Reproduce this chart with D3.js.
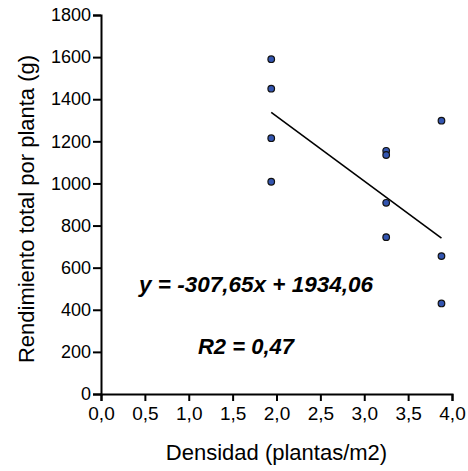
<!DOCTYPE html>
<html>
<head>
<meta charset="utf-8">
<script src="https://cdn.jsdelivr.net/npm/d3@7"></script>
<style>
  html, body { margin: 0; padding: 0; background: #fff; }
  svg { display: block; font-family: "Liberation Sans", Arial, sans-serif; }
</style>
</head>
<body>
<svg id="chart" width="468" height="471"></svg>
<script>
// Planting density (plants/m2) and total yield per plant (g)
const density = [1.94, 1.94, 1.94, 1.94, 3.25, 3.25, 3.25, 3.25, 3.88, 3.88, 3.88];
const yieldG  = [1590, 1450, 1215, 1008, 1155, 1135, 908, 745, 1298, 655, 430];

// Fitted regression: y = slope * x + intercept
const slope = -307.65;
const intercept = 1934.06;
const fitRange = [1.94, 3.88];
const r2 = 0.47;

const xTicks = [0, 0.5, 1, 1.5, 2, 2.5, 3, 3.5, 4];
const yTicks = [0, 200, 400, 600, 800, 1000, 1200, 1400, 1600, 1800];

const fmtComma = (v, d) => v.toFixed(d).replace('.', ',');

const svg = d3.select('#chart');
const x = d3.scaleLinear().domain([0, 4]).range([101, 452]);
const y = d3.scaleLinear().domain([0, 1800]).range([394, 15]);

// Axes
const xAxis = svg.append('g')
  .attr('transform', `translate(0,${y(0)})`)
  .call(d3.axisBottom(x).tickValues(xTicks).tickSizeOuter(0).tickSize(7).tickPadding(6)
    .tickFormat(d => fmtComma(d, 1)));
const yAxis = svg.append('g')
  .attr('transform', `translate(${x(0)},0)`)
  .call(d3.axisLeft(y).tickValues(yTicks).tickSizeOuter(0).tickSize(8).tickPadding(2)
    .tickFormat(d => d));

[xAxis, yAxis].forEach(g => {
  g.select('.domain').attr('stroke', '#000').attr('stroke-width', 2);
  g.selectAll('.tick line').attr('stroke', '#000').attr('stroke-width', 2);
  g.selectAll('.tick text').attr('fill', '#000')
    .style('font-family', '"Liberation Sans", Arial, sans-serif');
});
xAxis.selectAll('.tick text').style('font-size', '19px');
yAxis.selectAll('.tick text').style('font-size', '18px');

// Axis titles
svg.append('text')
  .attr('x', (x(0) + x(4)) / 2)
  .attr('y', 460)
  .attr('text-anchor', 'middle')
  .style('font-size', '22px')
  .text('Densidad (plantas/m2)');

svg.append('text')
  .attr('transform', 'translate(34,209) rotate(-90)')
  .attr('text-anchor', 'middle')
  .style('font-size', '22px')
  .text('Rendimiento total por planta (g)');

// Regression line
svg.append('line')
  .attr('x1', x(fitRange[0]))
  .attr('y1', y(slope * fitRange[0] + intercept))
  .attr('x2', x(fitRange[1]))
  .attr('y2', y(slope * fitRange[1] + intercept))
  .attr('stroke', '#000')
  .attr('stroke-width', 1.6);

// Observations
svg.append('g').selectAll('circle')
  .data(density.map((d, i) => [d, yieldG[i]]))
  .join('circle')
  .attr('cx', d => x(d[0]))
  .attr('cy', d => y(d[1]))
  .attr('r', 3.3)
  .attr('fill', '#3355b0')
  .attr('stroke', '#111')
  .attr('stroke-width', 1.2);

// Equation and fit quality
svg.append('text')
  .attr('x', 256)
  .attr('y', 292)
  .attr('text-anchor', 'middle')
  .style('font-size', '22.5px')
  .style('font-weight', 'bold')
  .style('font-style', 'italic')
  .text(`y = ${fmtComma(slope, 2)}x + ${fmtComma(intercept, 2)}`);

svg.append('text')
  .attr('x', 246)
  .attr('y', 354)
  .attr('text-anchor', 'middle')
  .style('font-size', '22px')
  .style('font-weight', 'bold')
  .style('font-style', 'italic')
  .text(`R2 = ${fmtComma(r2, 2)}`);
</script>
</body>
</html>
